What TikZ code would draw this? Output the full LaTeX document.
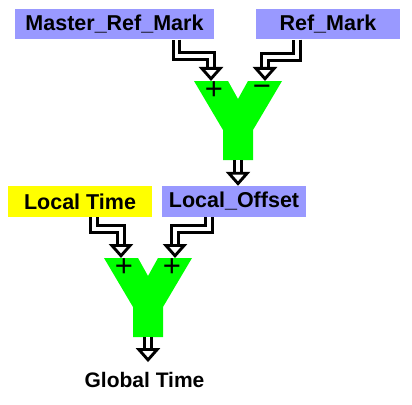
\documentclass[tikz,border=0pt]{standalone}
\usepackage{fontspec}
\setmainfont{Liberation Sans}
\usetikzlibrary{arrows.meta, positioning, calc}
\definecolor{mBoxBlue}{HTML}{9999FF}
\definecolor{mYellow}{HTML}{FFFF00}
\definecolor{mGreen}{HTML}{00FF00}

\tikzset{
  bluebox/.style={fill=mBoxBlue, inner sep=0pt, minimum height=30pt, font=\bfseries\fontsize{21.5}{21.5}\selectfont},
  yellowbox/.style={bluebox, fill=mYellow},
  sign/.style={inner sep=0pt, font=\fontsize{31}{31}\selectfont},
  hollow/.style={line width=2.9pt, double=white, double distance=3.6pt,
    -{Triangle[length=14pt, width=24pt, line width=2.9pt, fill=white]}},
  pics/ysum/.style={code={
    \fill[mGreen] (-44,0) -- (-10,0) -- (0,18) -- (10,0) -- (44,0) -- (15,49)
      -- (15,79) -- (-15,79) -- (-15,49) -- cycle;
    \coordinate (-in1) at (-27,0);
    \coordinate (-in2) at (27,0);
    \coordinate (-out) at (0,79);
    \node[sign] (-s1) at (-24,9.5) {+};
    \node[sign] (-s2) at (24,9.5) {#1};
  }}
}

\begin{document}
\begin{tikzpicture}[x=1pt, y=-1pt]
    \useasboundingbox (0,0) rectangle (412,404);
    % inputs
    \node[bluebox, minimum width=199pt] (master) at (114.5,24.5) {Master\_Ref\_Mark};
    \node[bluebox, minimum width=144pt] (ref) at (328,24.5) {Ref\_Mark};
    % first adder
    \pic (top) at (238,81) {ysum={−}};
    \draw[hollow] ([xshift=62pt]master.south) |- ([yshift=25pt]top-in1) -- (top-in1);
    \draw[hollow] ([xshift=-31pt]ref.south) |- ([yshift=24pt]top-in2) -- (top-in2);
    % second row
    \node[yellowbox, minimum width=144pt, minimum height=31pt] (local) at (80,201.5) {Local Time};
    \node[bluebox, minimum width=144pt, minimum height=31pt] (offset) at (234,201.5) {Local\_Offset};
    \draw[hollow] (top-out) -- (top-out |- offset.north);
    % second adder
    \pic (bot) at (148,258) {ysum={+}};
    \draw[hollow] ([xshift=14pt]local.south) |- ([yshift=29pt]bot-in1) -- (bot-in1);
    \draw[hollow] ([xshift=-25pt]offset.south) |- ([yshift=29pt]bot-in2) -- (bot-in2);
    % output
    \node[font=\bfseries\fontsize{21}{21}\selectfont, inner sep=0pt] (global) at (144.5,380) {Global Time};
    \draw[hollow] (bot-out) -- ([yshift=10pt]bot-out |- global.north);
\end{tikzpicture}
\end{document}
